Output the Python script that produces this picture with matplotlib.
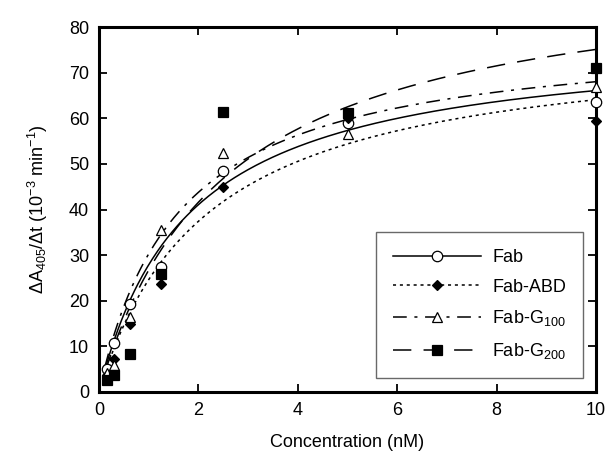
import numpy as np
import matplotlib
matplotlib.use("Agg")
import matplotlib.pyplot as plt

plt.rcParams['font.family'] = ['Liberation Sans', 'DejaVu Sans']
plt.rcParams['mathtext.fontset'] = 'custom'
plt.rcParams['mathtext.rm'] = 'Liberation Sans'
plt.rcParams['mathtext.it'] = 'Liberation Sans'
plt.rcParams['mathtext.default'] = 'regular'

conc = [0.156, 0.3125, 0.625, 1.25, 2.5, 5, 10]
fab = [5.0, 10.7, 19.2, 27.5, 48.5, 58.9, 63.6]
fab_abd = [3.7, 7.2, 14.8, 23.7, 44.9, 60.0, 59.4]
fab_g100 = [4.2, 5.9, 16.5, 35.4, 52.3, 56.5, 66.9]
fab_g200 = [2.5, 3.7, 8.3, 25.9, 61.4, 61.2, 71.1]

# Michaelis-Menten fit parameters (Vmax, Km)
fit_vmax = [78.0, 78.0, 79.0, 94.1]
fit_km = [1.8, 2.17, 1.61, 2.525]

labels = ['Fab', 'Fab-ABD', 'Fab-G$_{100}$', 'Fab-G$_{200}$']
series = [fab, fab_abd, fab_g100, fab_g200]
markers = ['o', 'D', '^', 's']
mfaces = ['white', 'black', 'white', 'black']
msizes = [7.5, 5, 7.5, 7]
dashes = [None, (2, 2.5), (9, 5, 2, 5), (12, 8)]

fig = plt.figure(figsize=(6.07, 4.61), dpi=100)
ax = fig.add_axes([0.163, 0.150, 0.819, 0.791])

xs = np.linspace(0.12, 10, 300)
handles = []
for y, lab, m, mf, ms, d, vm, km in zip(series, labels, markers, mfaces, msizes, dashes, fit_vmax, fit_km):
    fit = vm * xs / (km + xs)
    ln, = ax.plot(xs, fit, color='black', lw=1.1)
    if d is not None:
        ln.set_dashes(d)
    ax.plot(conc, y, linestyle='none', marker=m, markersize=ms,
            markerfacecolor=mf, markeredgecolor='black', markeredgewidth=0.9,
            clip_on=False, zorder=3)
    h, = ax.plot([], [], color='black', lw=1.1, marker=m, markersize=ms,
                 markerfacecolor=mf, markeredgecolor='black', markeredgewidth=0.9)
    if d is not None:
        h.set_dashes(d)
    handles.append(h)

ax.set_xlim(0, 10)
ax.set_ylim(0, 80)
ax.set_xticks([0, 2, 4, 6, 8, 10])
ax.set_yticks(range(0, 81, 10))
ax.tick_params(direction='in', length=6, width=1.3, top=True, right=True,
               labelsize=13, pad=7)
for s in ax.spines.values():
    s.set_linewidth(2.2)

ax.set_xlabel('Concentration (nM)', fontsize=13, labelpad=11)
ax.set_ylabel(r'ΔA$_{405}$/Δt (10$^{-3}$ min$^{-1}$)', fontsize=13, labelpad=14)

leg = ax.legend(handles, labels, loc='lower right', bbox_to_anchor=(0.974, 0.038),
                borderaxespad=0,
                fontsize=13, handlelength=4.9, frameon=True, fancybox=False,
                edgecolor='#444444', borderpad=0.95, labelspacing=0.7,
                handletextpad=0.6)
leg.get_frame().set_linewidth(1.0)

fig.savefig('out.png', dpi=100)
